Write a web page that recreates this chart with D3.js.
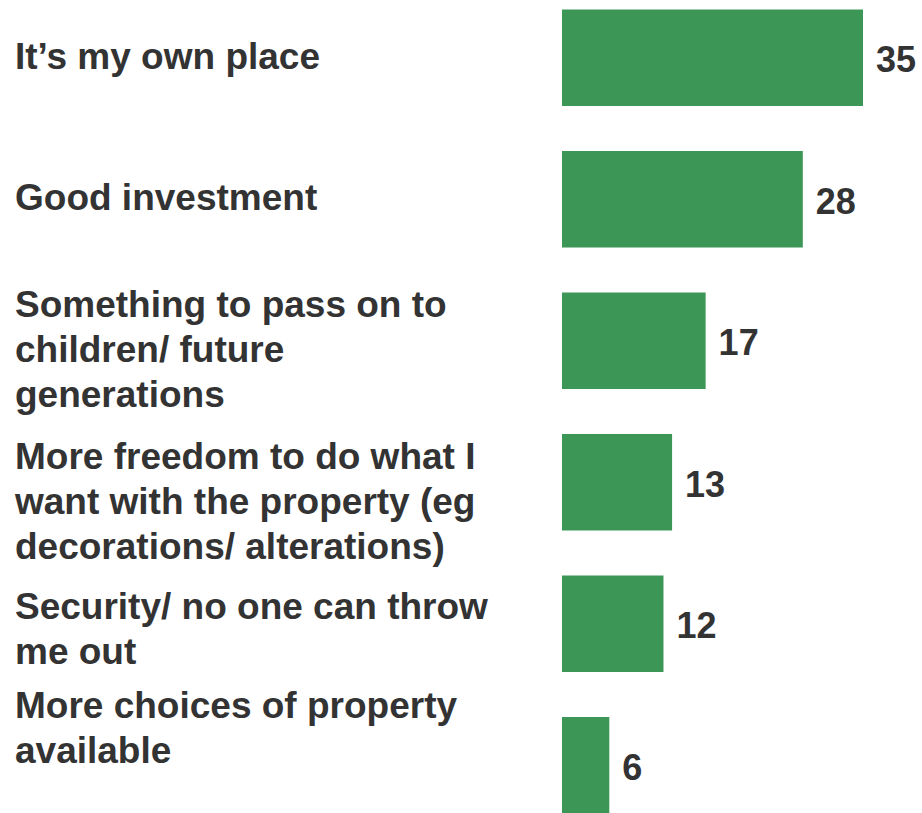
<!DOCTYPE html>
<html>
<head>
<meta charset="utf-8">
<script src="https://cdn.jsdelivr.net/npm/d3@7"></script>
<style>
  html, body { margin: 0; padding: 0; background: #ffffff; }
  svg { display: block; }
</style>
</head>
<body>
<svg id="chart" width="922" height="813"></svg>
<script>
// ---- data ----
const categories = [
  "It’s my own place",
  "Good investment",
  "Something to pass on to children/ future generations",
  "More freedom to do what I want with the property (eg decorations/ alterations)",
  "Security/ no one can throw me out",
  "More choices of property available"
];
// wrapped lines of each category label, as shown in the picture
const categoryLines = [
  ["It’s my own place"],
  ["Good investment"],
  ["Something to pass on to", "children/ future", "generations"],
  ["More freedom to do what I", "want with the property (eg", "decorations/ alterations)"],
  ["Security/ no one can throw", "me out"],
  ["More choices of property", "available"]
];
// bar lengths; labels show rounded values
const values = [35, 28, 16.7, 12.8, 11.8, 5.5];
const valueLabels = ["35", "28", "17", "13", "12", "6"];

// ---- layout (kept separate from data) ----
const labelFirstBaseline = [69, 210, 317, 469, 619, 718];
const lineHeight = 45;
const barColor = "#3c9656";
const textColor = "#333333";
const fontFamily = "'Liberation Sans', Arial, Helvetica, sans-serif";

const svg = d3.select("#chart");

const x = d3.scaleLinear().domain([0, 35]).range([562, 863]);
const y = d3.scaleBand()
  .domain(categories)
  .range([-13, 836])
  .paddingInner(0.318)
  .paddingOuter(0.159);

// bars
svg.append("g").selectAll("rect")
  .data(categories)
  .join("rect")
  .attr("x", x(0))
  .attr("y", d => y(d))
  .attr("width", (d, i) => x(values[i]) - x(0))
  .attr("height", y.bandwidth())
  .attr("fill", barColor);

// value labels
svg.append("g").selectAll("text")
  .data(categories)
  .join("text")
  .attr("x", (d, i) => x(values[i]) + 13)
  .attr("y", d => y(d) + y.bandwidth() / 2)
  .attr("dy", "0.4em")
  .attr("font-family", fontFamily)
  .attr("font-weight", "bold")
  .attr("font-size", 36)
  .attr("fill", textColor)
  .text((d, i) => valueLabels[i]);

// category labels
const lab = svg.append("g").selectAll("text")
  .data(categories)
  .join("text")
  .attr("font-family", fontFamily)
  .attr("font-weight", "bold")
  .attr("font-size", 37)
  .attr("fill", textColor);

lab.each(function(d, i) {
  d3.select(this).selectAll("tspan")
    .data(categoryLines[i])
    .join("tspan")
    .attr("x", 15)
    .attr("y", (l, j) => labelFirstBaseline[i] + j * lineHeight)
    .text(l => l);
});
</script>
</body>
</html>
